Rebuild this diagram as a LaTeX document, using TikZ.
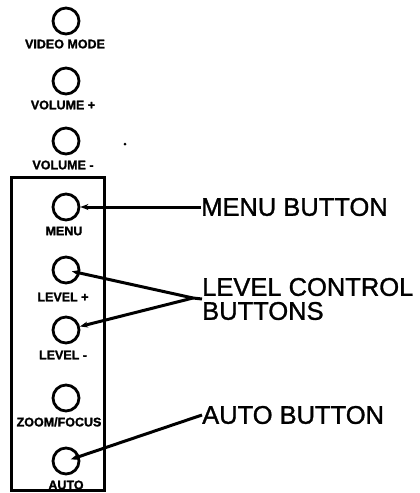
\documentclass[tikz,border=0pt]{standalone}
\usepackage{fontspec}
\setmainfont{Liberation Sans}
\newfontfamily\bigfont{Liberation Sans}[FakeBold=1.2]
\newfontfamily\smallfont{Liberation Sans Bold}[FakeBold=1.5]
\usetikzlibrary{arrows.meta}
\begin{document}
\begin{tikzpicture}[x=1pt,y=-1pt,
  btn/.style={circle,draw,line width=2.8pt,minimum size=26pt,inner sep=0pt},
  small/.style={inner sep=0pt,font=\smallfont\fontsize{12.5}{12.5}\selectfont},
  big/.style={inner sep=0pt,anchor=west,align=left,font=\bigfont\fontsize{25.5}{24}\selectfont},
  arr/.style={line width=3pt,-{Stealth[length=8pt,width=6pt]}}]
\useasboundingbox (0,0) rectangle (420,493);
% panel box
\draw[line width=3pt] (11,177) rectangle (104,490);
% buttons
\node[btn] (video) at (66,21) {};
\node[small] (videol) at (65,44) {VIDEO MODE};
\node[btn] (volp) at (66,81) {};
\node[small] (volpl) at (63,105) {VOLUME +};
\node[btn] (volm) at (66,141) {};
\node[small] (voml) at (63,165) {VOLUME -};
\node[btn] (menu) at (66,207) {};
\node[small] (menul) at (64,231) {MENU};
\node[btn] (lvlp) at (66,270) {};
\node[small] (lvlpl) at (63,297) {LEVEL +};
\node[btn] (lvlm) at (66,330) {};
\node[small] (lvlml) at (63,355) {LEVEL -};
\node[btn] (zoom) at (66,398) {};
\node[small] (zooml) at (59,422) {ZOOM/FOCUS};
\node[btn] (auto) at (66,461) {};
\node[small] (autol) at (66,485) {AUTO};
% stray dot
\fill (125,144) circle (1.5pt);
% right labels
\node[big] (mlab) at (201,207) {MENU BUTTON};
\node[big] (llab) at (202,299) {LEVEL CONTROL\\BUTTONS};
\node[big] (alab) at (202,415) {AUTO BUTTON};
\coordinate (apex) at (193,298);
% connectors
\draw[arr] (mlab.west) -- (menu.east);
\draw[line width=3pt] (llab.west) -- (apex);
\draw[arr,shorten >=6pt] (apex) -- (lvlp.center);
\draw[arr] (apex) -- (lvlm);
\draw[arr,shorten >=5pt] (alab.west) -- (auto.center);
\end{tikzpicture}
\end{document}
